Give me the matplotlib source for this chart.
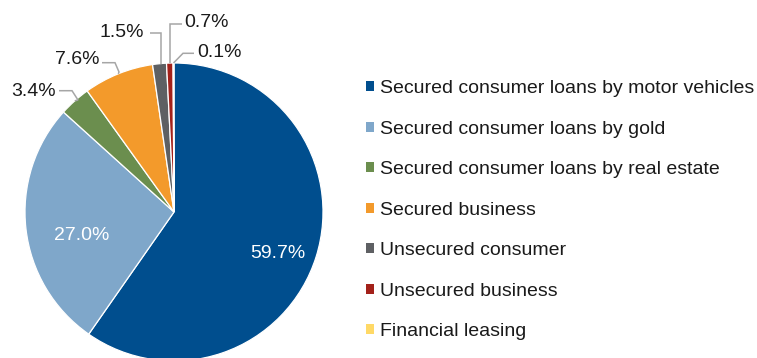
import numpy as np
import matplotlib
matplotlib.use("Agg")
import matplotlib.pyplot as plt
from matplotlib.patches import Patch

plt.rcParams['font.family'] = ['Liberation Sans', 'DejaVu Sans']

categories = [
    "Secured consumer loans by motor vehicles",
    "Secured consumer loans by gold",
    "Secured consumer loans by real estate",
    "Secured business",
    "Unsecured consumer",
    "Unsecured business",
    "Financial leasing",
]
shares = [59.7, 27.0, 3.4, 7.6, 1.5, 0.7, 0.1]
colors = ["#004E8E", "#7FA7CA", "#6B8E4E", "#F39A2B", "#5E6063", "#A3211A", "#FFD966"]

W, H = 757, 358
FS = 14
fig = plt.figure(figsize=(W / 100, H / 100), dpi=100)
ax = fig.add_axes([0, 0, 1, 1])

cx, cy, r = 174, H - 212, 149
wedges, _ = ax.pie(shares, colors=colors, startangle=90, counterclock=False,
                   center=(cx, cy), radius=r, frame=True,
                   wedgeprops=dict(edgecolor='white', linewidth=0.9))
ax.set_xlim(0, W)
ax.set_ylim(0, H)
ax.set_aspect('equal')
ax.axis('off')

def fmt(v):
    return f"{v:.1f}%"

# digits sit slightly below the centre of the text box
DY = 2.5

# labels inside the two large slices
inside = {0: (278, 250.5), 1: (82, 232.5)}
for i, (px, py) in inside.items():
    ax.text(px, H - py - DY, fmt(shares[i]), color='white', fontsize=FS,
            ha='center', va='center')

# outside labels with elbow leader lines: (text x, text y, align, elbow points)
outside = {
    2: (56, 88.5, 'right', [(59, 90.7), (72, 90.7), (78, 100)]),
    3: (99, 57, 'right', [(102, 62.7), (115, 62.7), (119, 72)]),
    4: (144, 30, 'right', [(150, 33.3), (161, 33.3)]),
    5: (184, 20, 'left', [(182, 24), (170, 24)]),
    6: (197, 50, 'left', [(194, 53.3), (183, 53.3)]),
}
start = 90.0
mids = []
for v in shares:
    span = v / sum(shares) * 360.0
    mids.append(start - span / 2)
    start -= span

for i, (tx, ty, align, pts) in outside.items():
    ang = np.deg2rad(mids[i])
    ex, ey = cx + r * np.cos(ang), cy + r * np.sin(ang)
    xs = [p[0] for p in pts] + [ex]
    ys = [H - p[1] for p in pts] + [ey]
    if i in (4, 5):
        xs[-1] = xs[-2]
    ax.plot(xs, ys, color='#A6A6A6', linewidth=1.1, solid_capstyle='butt',
            solid_joinstyle='miter')
    ax.text(tx, H - ty - DY, fmt(shares[i]), color='#1A1A1A', fontsize=FS,
            ha=align, va='center')

# legend
handles = [Patch(facecolor=c, edgecolor='none') for c in colors]
leg = ax.legend(handles, categories, loc='upper left',
                bbox_to_anchor=(366 / W, 1 - 80 / H), frameon=False,
                fontsize=FS, handlelength=0.42, handleheight=0.42,
                handletextpad=0.31, labelspacing=1.21, borderpad=0,
                borderaxespad=0)
for t in leg.get_texts():
    t.set_color('#1A1A1A')

fig.savefig("out.png", dpi=100)
